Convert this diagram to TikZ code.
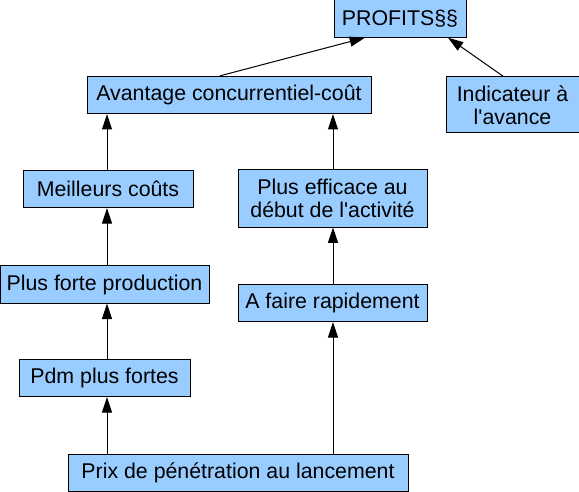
\documentclass[tikz,border=0pt]{standalone}
\usepackage{fontspec}
\setmainfont{Liberation Sans}
\usetikzlibrary{arrows.meta,calc}
\definecolor{bleu}{RGB}{153,204,255}
\tikzset{
  boite/.style={draw, fill=bleu, line width=0.75pt, inner sep=0pt, align=center,
    minimum height=28pt, font=\fontsize{16}{17.5}\selectfont},
  fleche/.style={line width=0.75pt, -{Triangle[length=11.5pt,width=7.5pt]}}
}
\begin{document}
\begin{tikzpicture}[x=0.75pt,y=-0.75pt]
\useasboundingbox (0,0) rectangle (579,492);
\node[boite,minimum width=99pt] (profits) at (400,18.5) {PROFITS§§};
\node[boite,minimum width=213pt] (avantage) at (229,95) {Avantage concurrentiel-coût};
\node[boite,minimum width=99.75pt,minimum height=42pt] (indicateur) at (512.5,105) {Indicateur à\\l\textquotesingle avance};
\node[boite,minimum width=127.5pt] (couts) at (108,189) {Meilleurs coûts};
\node[boite,minimum width=141.75pt,minimum height=42.75pt] (efficace) at (332.5,198.5) {Plus efficace au\\début de l\textquotesingle activité};
\node[boite,minimum width=156.75pt] (production) at (104.5,284.5) {Plus forte production};
\node[boite,minimum width=141.75pt] (rapide) at (332.5,303) {A faire rapidement};
\node[boite,minimum width=128.25pt] (pdm) at (104.5,378) {Pdm plus fortes};
\node[boite,minimum width=255pt] (prix) at (238,473) {Prix de pénétration au lancement};
\coordinate (gauche) at (107,0);
\coordinate (droite) at (333,0);
% colonne de gauche
\draw[fleche] (prix.north -| gauche) -- (pdm.south -| gauche);
\draw[fleche] (pdm.north -| gauche) -- (production.south -| gauche);
\draw[fleche] (production.north -| gauche) -- (couts.south -| gauche);
\draw[fleche] (couts.north -| gauche) -- (avantage.south -| gauche);
% colonne de droite
\draw[fleche] (prix.north -| droite) -- (rapide.south -| droite);
\draw[fleche] (rapide.north -| droite) -- (efficace.south -| droite);
\draw[fleche] (efficace.north -| droite) -- (avantage.south -| droite);
% vers les profits
\draw[fleche] ($(avantage.north)+(-9,0)$) -- ($(profits.south)+(-35,0)$);
\draw[fleche] ($(indicateur.north)+(-9,0)$) -- ($(profits.south)+(48,0)$);
\end{tikzpicture}
\end{document}
